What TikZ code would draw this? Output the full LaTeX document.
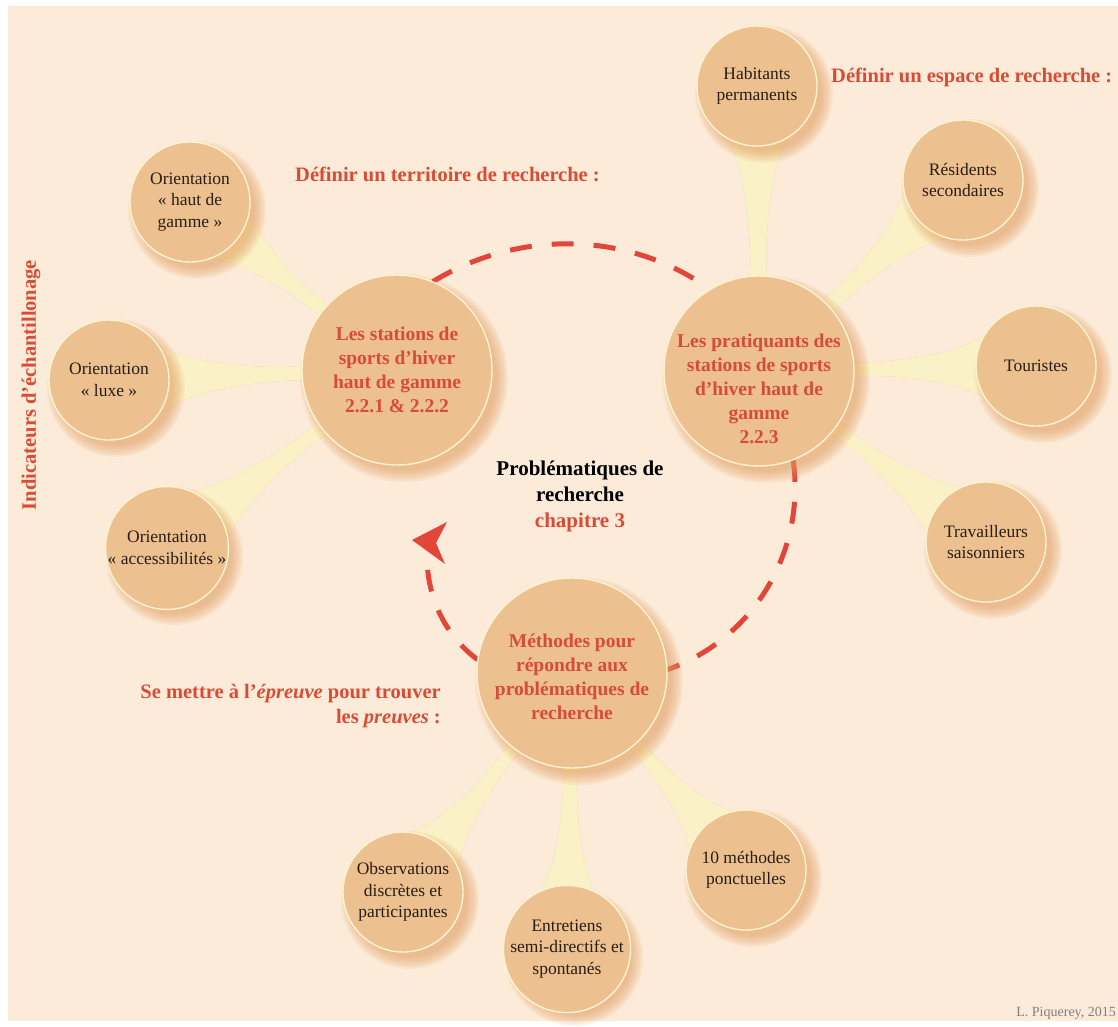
\documentclass[tikz,border=0pt]{standalone}
\usepackage{fontspec}
\setmainfont{Liberation Serif}
\usetikzlibrary{calc}

\definecolor{bgpeach}{RGB}{252,235,216}
\definecolor{discfill}{RGB}{236,192,143}
\definecolor{discrim}{RGB}{253,243,208}
\definecolor{tentfill}{RGB}{250,242,198}
\definecolor{labred}{RGB}{216,76,54}
\definecolor{dashred}{RGB}{226,70,58}
\definecolor{shadowor}{RGB}{228,158,96}
\definecolor{darktext}{RGB}{40,30,22}

\tikzset{
  disc/.style={circle, fill=discfill, draw=discrim, line width=1.4pt, inner sep=0pt, align=center},
  smalldisc/.style={disc, minimum size=120pt, font=\fontsize{17.5}{21.5}\selectfont, text=darktext},
  bigdisc/.style={disc, minimum size=190pt, font=\bfseries\fontsize{19.5}{24}\selectfont, text=labred},
  bigtext/.style={align=center, inner sep=0pt, font=\bfseries\fontsize{19.5}{24}\selectfont, text=labred},
  tent/.style={fill=tentfill},
  tentshade/.style={fill=shadowor, opacity=0.22},
  dasharc/.style={draw=dashred, line width=5pt, dash pattern=on 22pt off 20pt},
  redlab/.style={inner sep=0pt, text=labred, font=\bfseries\fontsize{20.5}{25.5}\selectfont},
}

% soft shadow of a disc: centre, radius
\newcommand{\discshadow}[2]{%
  \foreach \k in {0,...,7}{\fill[shadowor, opacity=0.1] ($(#1)+(7,-8)$) circle ({#2+9-1.7*\k});}}

% child, parent, alpha, beta, half-width of controls, bend, style
\newcommand{\tentacle}[7]{%
  \fill[#7] let \p1=($(#2)-(#1)$), \n1={atan2(\y1,\x1)}, \n2={\n1+180} in
    ($(#1)+(\n1+#3:59)$)
    .. controls ($(#1)!0.33!(#2)+(\n1+90:#5+#6)$) and ($(#1)!0.68!(#2)+(\n1+90:#5+#6)$) ..
    ($(#2)+(\n2-#4:93)$) -- ($(#2)+(\n2+#4:93)$)
    .. controls ($(#1)!0.68!(#2)+(\n1-90:#5-#6)$) and ($(#1)!0.33!(#2)+(\n1-90:#5-#6)$) ..
    ($(#1)+(\n1-#3:59)$) -- cycle;}
\newcommand{\alltentacles}[1]{%
  \tentacle{chdg}{cst}{33}{5}{5}{0}{#1}
  \tentacle{clux}{cst}{36}{5}{5}{0}{#1}
  \tentacle{cacc}{cst}{33}{5}{5}{0}{#1}
  \tentacle{chab}{cpr}{31}{6}{6}{0}{#1}
  \tentacle{cres}{cpr}{34}{6}{5}{0}{#1}
  \tentacle{ctou}{cpr}{33}{5}{5}{0}{#1}
  \tentacle{ctra}{cpr}{31}{5}{5}{0}{#1}
  \tentacle{cobs}{cme}{31}{5}{4}{0}{#1}
  \tentacle{cent}{cme}{30}{5}{5}{0}{#1}
  \tentacle{cdix}{cme}{31}{5}{5}{0}{#1}}

\begin{document}
\begin{tikzpicture}[x=1pt,y=1pt]
\useasboundingbox (0,0) rectangle (1118,-1027);
\fill[white] (0,0) rectangle (1118,-1027);
\fill[bgpeach] (8,-6) rectangle (1118,-1021);

\path (397,-370) coordinate (cst)
      (759,-371) coordinate (cpr)
      (572,-673) coordinate (cme);
\path (190,-202) coordinate (chdg) (109,-380) coordinate (clux) (167,-548) coordinate (cacc)
      (757,-86) coordinate (chab) (963,-180) coordinate (cres) (1036,-366) coordinate (ctou) (986,-542) coordinate (ctra)
      (403,-892) coordinate (cobs) (567,-949) coordinate (cent) (746,-870) coordinate (cdix);

% ---- tentacles: soft shadow then fill
\begin{scope}[shift={(5,-11)}]\alltentacles{tentshade}\end{scope}
\begin{scope}[shift={(3,-6)}]\alltentacles{tentshade}\end{scope}
\begin{scope}[shift={(1,-2)}]\alltentacles{tentshade}\end{scope}
\alltentacles{tent}

% ---- dashed cycle (behind the main discs)
\path (cst) node[circle, minimum size=190pt, inner sep=0pt] (stations0) {}
      (cpr) node[circle, minimum size=190pt, inner sep=0pt] (prat0) {}
      (cme) node[circle, minimum size=190pt, inner sep=0pt] (meth0) {};
\coordinate (arrowend) at (427,-556);
\draw[dasharc] (stations0.68) .. controls (519,-229) and (629,-231) .. (prat0.121);
\draw[dasharc] (prat0.-69) .. controls (806,-551) and (754,-639) .. (meth0.2);
\draw[dasharc] (meth0.172) .. controls (447,-637) and (427,-600) .. (arrowend);
\fill[dashred] (412,-540) -- (447,-522) -- (436,-543) -- (445,-564) -- cycle;

% ---- shadows of discs
\foreach \c in {chdg,clux,cacc,chab,cres,ctou,ctra,cobs,cent,cdix}{\discshadow{\c}{60}}
\foreach \c in {cst,cpr,cme}{\discshadow{\c}{95}}

% ---- small discs
\node[smalldisc] (hdg) at (chdg) {Orientation\\« haut de\\gamme »};
\node[smalldisc] (lux) at (clux) {Orientation\\« luxe »};
\node[smalldisc] (acc) at (cacc) {Orientation\\« accessibilités »};
\node[smalldisc] (hab) at (chab) {Habitants\\permanents};
\node[smalldisc] (res) at (cres) {Résidents\\secondaires};
\node[smalldisc] (tou) at (ctou) {Touristes};
\node[smalldisc] (tra) at (ctra) {Travailleurs\\saisonniers};
\node[smalldisc] (obs) at (cobs) {Observations\\discrètes et\\participantes};
\node[smalldisc] (ent) at (cent) {Entretiens\\semi-directifs et\\spontanés};
\node[smalldisc] (dix) at (cdix) {10 méthodes\\ponctuelles};

% ---- main discs
\node[bigdisc] (stations) at (cst) {Les stations de\\sports d’hiver\\haut de gamme\\2.2.1 \& 2.2.2};
\node[bigdisc] (prat) at (cpr) {};
\node[bigtext] (pratxt) at ([yshift=-18pt]prat.center) {Les pratiquants des\\stations de sports\\d’hiver haut de\\gamme\\2.2.3};
\node[bigdisc] (meth) at (cme) {};
\node[bigtext] (methtxt) at ([yshift=-4pt]meth.center) {Méthodes pour\\répondre aux\\problématiques de\\recherche};

% ---- labels
\node[redlab, anchor=west] (terr) at (295,-174) {Définir un territoire de recherche :};
\node[redlab, anchor=west] (esp) at (831,-77) {Définir un espace de recherche :};
\node[redlab, align=center, text=black, font=\bfseries\fontsize{21}{26}\selectfont] (prob) at (580,-496)
  {Problématiques de\\recherche\\\textcolor{labred}{chapitre 3}};
\node[redlab, align=right, anchor=east] (preuv) at (441,-706)
  {Se mettre à l’\textit{épreuve} pour trouver\\les \textit{preuves} :};
\node[redlab, rotate=90] (indic) at (31,-385) {Indicateurs d’échantillonage};
\node[inner sep=0pt, anchor=east, text=black!50, font=\fontsize{14}{16}\selectfont] (credit) at (1116,-1013) {L. Piquerey, 2015};
\end{tikzpicture}
\end{document}
